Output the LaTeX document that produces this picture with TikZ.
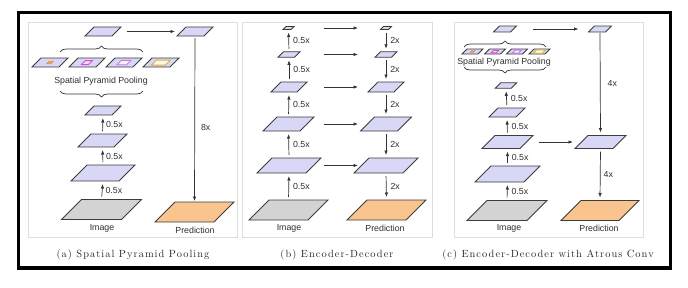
\documentclass[tikz,border=0pt]{standalone}
\usepackage{fontspec}
\setmainfont{Latin Modern Roman}
\newfontfamily\lblfont{Liberation Sans}
\newfontfamily\capfont[LetterSpace=10]{Latin Modern Roman}
\usetikzlibrary{arrows.meta,decorations.pathreplacing}
\definecolor{lav}{HTML}{D8D8F6}
\definecolor{imggray}{HTML}{D3D3D3}
\definecolor{predor}{HTML}{F9C48E}
\definecolor{pgborder}{HTML}{3C3C3C}
\definecolor{arrcol}{HTML}{333333}
\definecolor{panelcol}{HTML}{DDDDDD}
\definecolor{txtcol}{HTML}{2E2E2E}
\definecolor{sppAf}{HTML}{F2A56A}\definecolor{sppAd}{HTML}{E8904A}
\definecolor{sppBf}{HTML}{F8E0F8}\definecolor{sppBd}{HTML}{E048E0}
\definecolor{sppCf}{HTML}{FAF2FF}\definecolor{sppCd}{HTML}{C878E8}
\definecolor{sppDf}{HTML}{FFF8E0}\definecolor{sppDd}{HTML}{D4B048}
\tikzset{
  pgline/.style={draw=pgborder, line width=0.75pt, line join=miter},
  arr/.style={draw=arrcol, line width=0.7pt, -{Latex[length=4.5pt,width=3.5pt]}, shorten <=3pt, shorten >=3pt},
  lbl/.style={font=\lblfont\fontsize{8.8}{10}\selectfont, text=txtcol, inner sep=0pt},
  captext/.style={font=\capfont\fontsize{10.4}{12}\selectfont, text=black!85, inner sep=0pt},
  panel/.style={draw=panelcol, line width=0.8pt},
  brc/.style={draw=arrcol, line width=0.7pt, decorate, decoration={brace, amplitude=6pt}},
  inner1/.style={draw=sppAd, line width=0.9pt},
  inner2/.style={draw=sppBd, line width=1pt},
  inner3/.style={draw=sppCd, line width=1pt},
  inner4/.style={draw=sppDd, line width=1pt},
}
% [style] name position edge height fill
\newcommand{\pg}[6][]{%
  \node[inner sep=0pt, outer sep=0pt, minimum width={#4+#5}, minimum height={#5}] (#2) at #3 {};
  \path[pgline, fill=#6, #1] (#2.south west) -- ++(#4,0) -- (#2.north east) -- ++(-#4,0) -- cycle;}
\begin{document}
\begin{tikzpicture}[x=1pt, y=-1pt]
\useasboundingbox (0,0) rectangle (688,287);
% frame and panels
\draw[line width=3.5pt] (18.5,12.5) rectangle (670.5,268);
\draw[panel] (28,22) rectangle (237,237);
\draw[panel] (242,22) rectangle (432,237);
\draw[panel] (454,22) rectangle (643,237);

% ---------------- (a) ----------------
\pg{atop}{(103,31.5)}{27}{9}{lav}
\pg{aR}{(195,31.5)}{27}{9}{lav}
\pg{as1}{(50,62.5)}{27}{9}{lav}
\pg{as2}{(87,62.5)}{27}{9}{lav}
\pg{as3}{(124,62.5)}{27}{9}{lav}
\pg{as4}{(161,62.5)}{27}{9}{lav}
\pg[inner1]{as1i}{(as1)}{4}{2.5}{sppAf}
\pg[inner2]{as2i}{(as2)}{7}{4}{sppBf}
\pg[inner3]{as3i}{(as3)}{9.5}{4.5}{sppCf}
\pg[inner4]{as4i}{(as4)}{14}{5}{sppDf}
\draw[brc] (60,52) -- (143,52);
\node[lbl] (asppl) at (101,81) {Spatial Pyramid Pooling};
\draw[brc] (143,91) -- (60,91);
\pg{a1}{(103,110.5)}{27}{9}{lav}
\pg{a2}{(102.5,140.5)}{36}{13}{lav}
\pg{a3}{(103,173)}{48}{16}{lav}
\pg{aimg}{(101.5,209.5)}{60}{20}{imggray}
\pg{apred}{(194.5,212)}{59}{20}{predor}
\node[lbl] (aimgl) at (102,228) {Image};
\node[lbl] (apredl) at (195,230) {Prediction};
\draw[arr, shorten <=6pt, shorten >=2pt] (atop.east) -- (aR.west);
\draw[arr, shorten <=2pt, shorten >=1pt] (aR.south) -- node[lbl, pos=0.55, anchor=west, xshift=6pt] {8x} (apred.north);
\draw[arr] (a2.north) -- node[lbl, anchor=west, xshift=3pt] {0.5x} (a1.south);
\draw[arr] (a3.north) -- node[lbl, anchor=west, xshift=3pt] {0.5x} (a2.south);
\draw[arr] (aimg.north) -- node[lbl, anchor=west, xshift=3pt] {0.5x} (a3.south);
\node[captext] (capa) at (133,255) {(a) Spatial Pyramid Pooling};

% ---------------- (b) ----------------
\coordinate (bL) at (324,0);
\coordinate (bR) at (358,0);
\pg{b1}{(288.5,28)}{8}{3}{lav}
\pg{b2}{(289,54.5)}{16.5}{5.5}{lav}
\pg{b3}{(289,87)}{26}{10}{lav}
\pg{b4}{(288.5,124)}{37}{14}{lav}
\pg{b5}{(289,165.5)}{49}{15}{lav}
\pg{bimg}{(288.5,210)}{59}{20}{imggray}
\pg{r1}{(386,28)}{8}{3}{lav}
\pg{r2}{(386,54.5)}{16.5}{5.5}{lav}
\pg{r3}{(386,87)}{26}{10}{lav}
\pg{r4}{(386,124)}{37}{14}{lav}
\pg{r5}{(386,165.5)}{49}{15}{lav}
\pg{bpred}{(386.5,210)}{59}{20}{predor}
\node[lbl] (bimgl) at (289,228) {Image};
\node[lbl] (bpredl) at (385,228) {Prediction};
\draw[arr] (b2.north) -- node[lbl, anchor=west, xshift=4pt] {0.5x} (b1.south);
\draw[arr] (b3.north) -- node[lbl, anchor=west, xshift=4pt] {0.5x} (b2.south);
\draw[arr] (b4.north) -- node[lbl, anchor=west, xshift=4pt] {0.5x} (b3.south);
\draw[arr] (b5.north) -- node[lbl, anchor=west, xshift=4pt] {0.5x} (b4.south);
\draw[arr] (bimg.north) -- node[lbl, anchor=west, xshift=4pt] {0.5x} (b5.south);
\draw[arr] (r1.south) -- node[lbl, anchor=west, xshift=4pt] {2x} (r2.north);
\draw[arr] (r2.south) -- node[lbl, anchor=west, xshift=4pt] {2x} (r3.north);
\draw[arr] (r3.south) -- node[lbl, anchor=west, xshift=4pt] {2x} (r4.north);
\draw[arr] (r4.south) -- node[lbl, anchor=west, xshift=4pt] {2x} (r5.north);
\draw[arr] (r5.south) -- node[lbl, anchor=west, xshift=4pt] {2x} (bpred.north);
\foreach \i in {1,...,5} {
  \draw[arr, shorten <=0pt, shorten >=0pt] (b\i.center -| bL) -- (r\i.center -| bR);
}
\node[captext] (capb) at (337,255) {(b) Encoder-Decoder};

% ---------------- (c) ----------------
\pg{ctop}{(505,29)}{17}{6}{lav}
\pg{cR}{(600,29)}{17}{6}{lav}
\pg{cs1}{(472.5,51.5)}{16}{5}{lav}
\pg{cs2}{(495,51.5)}{16}{5}{lav}
\pg{cs3}{(517,51.5)}{16}{5}{lav}
\pg{cs4}{(539.5,51.5)}{16}{5}{lav}
\pg[inner1]{cs1i}{(cs1)}{3}{1.5}{sppAf}
\pg[inner2]{cs2i}{(cs2)}{5}{2.5}{sppBf}
\pg[inner3]{cs3i}{(cs3)}{6}{3}{sppCf}
\pg[inner4]{cs4i}{(cs4)}{9}{3.5}{sppDf}
\draw[brc] (464,47) -- (546,47);
\node[lbl] (csppl) at (504,62) {Spatial Pyramid Pooling};
\draw[brc] (546,67) -- (464,67);
\pg{c1}{(506,85.5)}{16}{5.5}{lav}
\pg{c2}{(507,112.5)}{27}{9}{lav}
\pg{c3}{(507.5,142)}{38}{13}{lav}
\pg{c4}{(507.5,174)}{49}{16}{lav}
\pg{cimg}{(507,210.5)}{60}{20}{imggray}
\pg{cm}{(600.5,142)}{38}{13}{lav}
\pg{cpred}{(600,210.5)}{58}{20}{predor}
\node[lbl] (cimgl) at (509,228) {Image};
\node[lbl] (cpredl) at (599,228) {Prediction};
\draw[arr, shorten <=16pt, shorten >=10pt] (ctop.east) -- (cR.west);
\draw[arr, shorten <=6pt, shorten >=2pt] (c3.east) -- (cm.west);
\draw[arr, shorten <=1pt, shorten >=3pt] (cR.south) -- node[lbl, anchor=west, xshift=7pt] {4x} (cm.north);
\draw[arr] (cm.south) -- node[lbl, anchor=west, xshift=3pt] {4x} (cpred.north);
\draw[arr] (c2.north) -- node[lbl, anchor=west, xshift=4pt] {0.5x} (c1.south);
\draw[arr] (c3.north) -- node[lbl, anchor=west, xshift=4pt] {0.5x} (c2.south);
\draw[arr] (c4.north) -- node[lbl, anchor=west, xshift=4pt] {0.5x} (c3.south);
\draw[arr] (cimg.north) -- node[lbl, anchor=west, xshift=4pt] {0.5x} (c4.south);
\node[captext] (capc) at (548,255) {(c) Encoder-Decoder with Atrous Conv};
\end{tikzpicture}
\end{document}
